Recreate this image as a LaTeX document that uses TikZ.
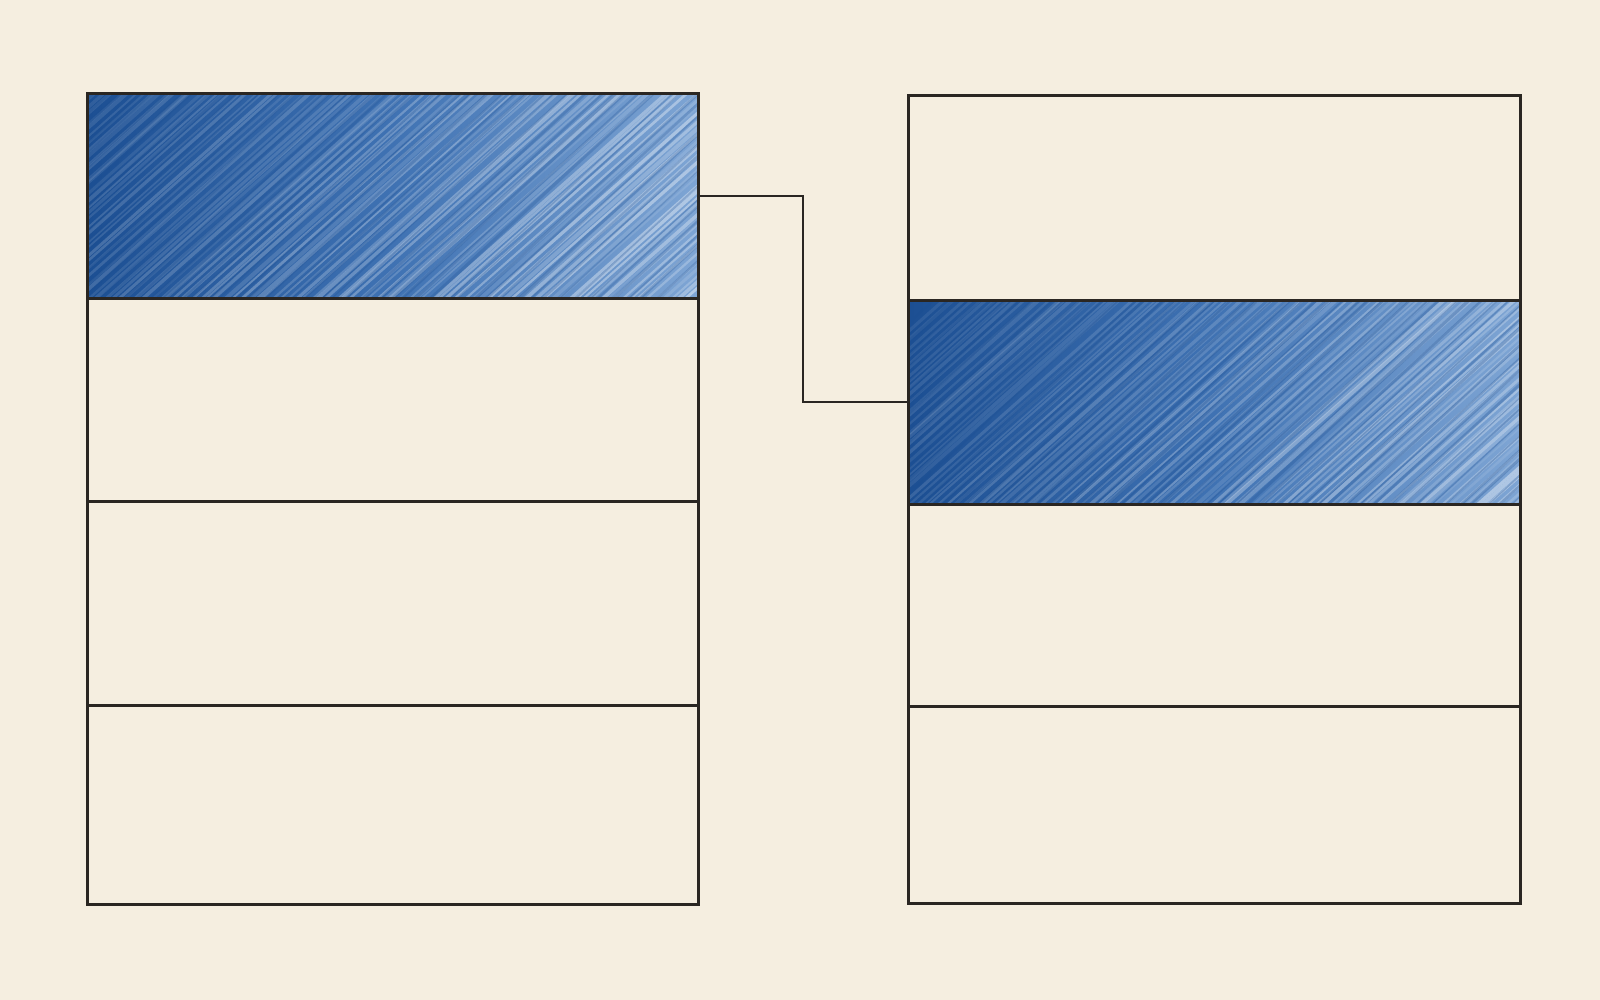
\documentclass[tikz,border=0pt]{standalone}
\usetikzlibrary{fit}
\definecolor{paper}{HTML}{F5EEE0}
\definecolor{ink}{HTML}{2A2622}
\definecolor{bdark}{HTML}{1C4F93}
\definecolor{bmid}{HTML}{3F72B3}
\definecolor{blight}{HTML}{7EA5D4}
\tikzset{
  cell/.style={draw=ink, line width=1.5pt, inner sep=0pt, outer sep=0pt, rectangle},
  wire/.style={draw=ink, line width=1.3pt, line join=miter},
  crayon/.style={left color=bdark, right color=blight, middle color=bmid},
}
\begin{document}
\begin{tikzpicture}[x=0.5pt,y=-0.5pt]
\pgfmathsetseed{7}
\useasboundingbox (0,0) rectangle (1600,1000);
\fill[paper] (0,0) rectangle (1600,1000);
\path[crayon] (88,95) rectangle (697,297);
\path[crayon] (909,301) rectangle (1519,503);
\begin{scope}
  \clip (88,95) rectangle (697,297);
  \foreach \i in {0,...,110}{
    \pgfmathsetmacro\xx{-200+\i*8+rnd*6}
    \pgfmathsetmacro\op{0.08+0.40*\i/110*rnd}
    \draw[white, opacity=\op, line width=0.8+1.2*rnd] (\xx,310) -- ++(260,-230);
  }
  \foreach \i in {0,...,60}{
    \pgfmathsetmacro\xx{-200+\i*14+rnd*8}
    \draw[bdark, opacity=0.25, line width=0.6+rnd] (\xx,310) -- ++(250,-230);
  }
\end{scope}
\begin{scope}
  \clip (909,301) rectangle (1519,503);
  \foreach \i in {0,...,110}{
    \pgfmathsetmacro\xx{700+\i*8+rnd*6}
    \pgfmathsetmacro\op{0.08+0.40*\i/110*rnd}
    \draw[white, opacity=\op, line width=0.8+1.2*rnd] (\xx,515) -- ++(260,-230);
  }
  \foreach \i in {0,...,60}{
    \pgfmathsetmacro\xx{700+\i*14+rnd*8}
    \draw[bdark, opacity=0.3, line width=0.6+rnd] (\xx,515) -- ++(250,-230);
  }
\end{scope}
% left column
\node[cell, fit={(87,94)(698,298)}] (L1) {};
\node[cell, fit={(87,298)(698,501)}] (L2) {};
\node[cell, fit={(87,501)(698,705)}] (L3) {};
\node[cell, fit={(87,705)(698,904)}] (L4) {};
% right column
\node[cell, fit={(908,96)(1520,300)}] (R1) {};
\node[cell, fit={(908,300)(1520,504)}] (R2) {};
\node[cell, fit={(908,504)(1520,706)}] (R3) {};
\node[cell, fit={(908,706)(1520,903)}] (R4) {};
% connector
\draw[wire] (L1.east) -- ++(105,0) |- (R2.west);
\end{tikzpicture}
\end{document}
